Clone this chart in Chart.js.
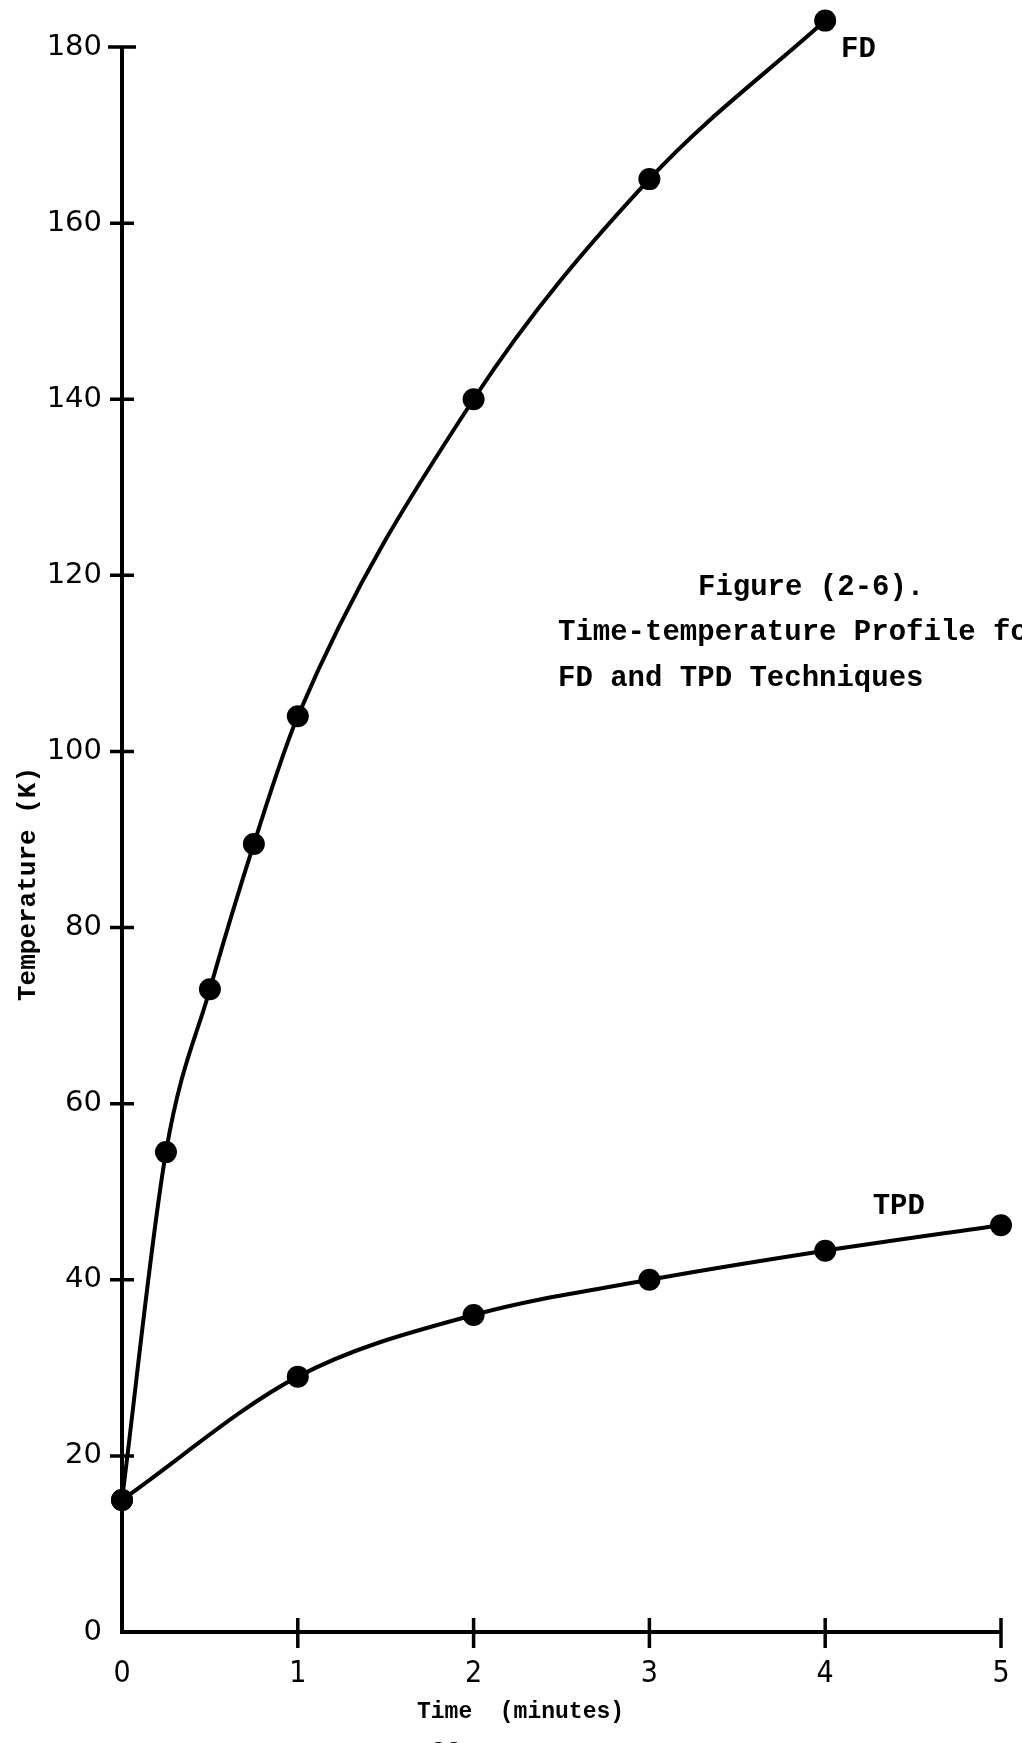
<!DOCTYPE html>
<html>
<head>
<meta charset="utf-8">
<script src="https://cdn.jsdelivr.net/npm/chart.js@4"></script>
<style>
  html, body { margin: 0; padding: 0; background: #fff; }
  #wrap { width: 1022px; height: 1743px; }
</style>
</head>
<body>
<div id="wrap"><canvas id="chart" width="1022" height="1743"></canvas></div>
<script>
// Time (minutes) and temperature (K) readings for the two techniques
const fdTime  = [0, 0.25, 0.5, 0.75, 1, 2, 3, 4];
const fdTemp  = [15, 54.5, 73, 89.5, 104, 140, 165, 183];
const tpdTime = [0, 1, 2, 3, 4, 5];
const tpdTemp = [15, 29, 36, 40, 43.3, 46.2];

// Axis ticks
const xTicks = [0, 1, 2, 3, 4, 5];
const yTicks = [0, 20, 40, 60, 80, 100, 120, 140, 160, 180];
const Y_MAX = 183.75; // headroom above the 180 tick for the last FD point

const TYPE_FONT = '"Liberation Mono", "Courier New", monospace';
const SANS_FONT = '"DejaVu Sans", sans-serif';
const INK = '#000';

function toPoints(xs, ys) {
  return xs.map((x, i) => ({ x: x, y: ys[i] }));
}

// axis lines with tick marks that cross them
const handAxes = {
  id: 'handAxes',
  beforeDatasetsDraw(chart) {
    const { ctx, scales: { x, y } } = chart;
    const x0 = x.getPixelForValue(xTicks[0]);
    const x1 = x.getPixelForValue(xTicks[xTicks.length - 1]);
    const y0 = y.getPixelForValue(yTicks[0]);
    const y1 = y.getPixelForValue(yTicks[yTicks.length - 1]);
    ctx.save();
    ctx.strokeStyle = INK;
    ctx.lineWidth = 4;
    ctx.beginPath();
    ctx.moveTo(x0, y1);
    ctx.lineTo(x0, y0);
    ctx.lineTo(x1, y0);
    ctx.stroke();
    ctx.lineWidth = 3.5;
    ctx.beginPath();
    yTicks.slice(1).forEach(v => {
      const py = y.getPixelForValue(v);
      const half = v === 180 ? 14 : 12;
      ctx.moveTo(x0 - half, py);
      ctx.lineTo(x0 + half, py);
    });
    xTicks.slice(1).forEach(v => {
      const px = x.getPixelForValue(v);
      ctx.moveTo(px, y0 - 14);
      ctx.lineTo(px, y0 + 16);
    });
    ctx.stroke();
    ctx.restore();
  }
};

// curve names, axis titles and the figure caption
const typedText = {
  id: 'typedText',
  afterDraw(chart) {
    const { ctx, scales: { x, y } } = chart;
    ctx.save();
    ctx.fillStyle = INK;
    ctx.font = 'bold 29px ' + TYPE_FONT;
    ctx.textBaseline = 'middle';
    ctx.textAlign = 'left';

    ctx.fillText('FD', x.getPixelForValue(4.09), y.getPixelForValue(179.7));
    ctx.fillText('TPD', x.getPixelForValue(4.27), y.getPixelForValue(48.3));

    ctx.textBaseline = 'alphabetic';
    ctx.fillText('Figure (2-6).', 698, 595);
    ctx.fillText('Time-temperature Profile for', 558, 640);
    ctx.fillText('FD and TPD Techniques', 558, 686);

    ctx.font = 'bold 23px ' + TYPE_FONT;
    ctx.textBaseline = 'middle';
    ctx.fillText('Time  (minutes)', 417, 1712);

    ctx.font = 'bold 26px ' + TYPE_FONT;
    ctx.textAlign = 'center';
    ctx.save();
    ctx.translate(28, 884);
    ctx.rotate(-Math.PI / 2);
    ctx.fillText('Temperature (K)', 0, 0);
    ctx.restore();

    ctx.textBaseline = 'top';
    ctx.fillText('22', 446, 1739);
    ctx.restore();
  }
};

// keep the plot box where the layout padding puts it
function zeroPadding(s) {
  s.paddingLeft = 0;
  s.paddingRight = 0;
  s.paddingTop = 0;
  s.paddingBottom = 0;
}

new Chart(document.getElementById('chart'), {
  type: 'scatter',
  data: {
    datasets: [
      {
        label: 'FD',
        data: toPoints(fdTime, fdTemp),
        showLine: true,
        cubicInterpolationMode: 'monotone',
        borderColor: INK,
        borderWidth: 4,
        pointRadius: 11,
        pointBackgroundColor: INK,
        pointBorderWidth: 0,
        clip: false
      },
      {
        label: 'TPD',
        data: toPoints(tpdTime, tpdTemp),
        showLine: true,
        cubicInterpolationMode: 'monotone',
        borderColor: INK,
        borderWidth: 4,
        pointRadius: 11,
        pointBackgroundColor: INK,
        pointBorderWidth: 0,
        clip: false
      }
    ]
  },
  options: {
    responsive: false,
    animation: false,
    devicePixelRatio: 1,
    layout: { padding: { top: 14, right: 21, left: 0, bottom: 0 } },
    plugins: {
      legend: { display: false },
      tooltip: { enabled: false }
    },
    scales: {
      x: {
        type: 'linear',
        min: xTicks[0],
        max: xTicks[xTicks.length - 1],
        afterFit: s => { s.height = 111; zeroPadding(s); },
        afterBuildTicks: s => { s.ticks = xTicks.map(v => ({ value: v })); },
        grid: { display: false, drawTicks: false },
        border: { display: false },
        ticks: {
          color: INK,
          padding: 24,
          maxRotation: 0,
          font: { family: '"DejaVu Sans Condensed", ' + SANS_FONT, size: 30 }
        }
      },
      y: {
        type: 'linear',
        min: yTicks[0],
        max: Y_MAX,
        afterFit: s => { s.width = 122; zeroPadding(s); },
        afterBuildTicks: s => { s.ticks = yTicks.map(v => ({ value: v })); },
        grid: { display: false, drawTicks: false },
        border: { display: false },
        ticks: {
          color: INK,
          padding: 20,
          font: { family: SANS_FONT, size: 29 }
        }
      }
    }
  },
  plugins: [handAxes, typedText]
});
</script>
</body>
</html>
